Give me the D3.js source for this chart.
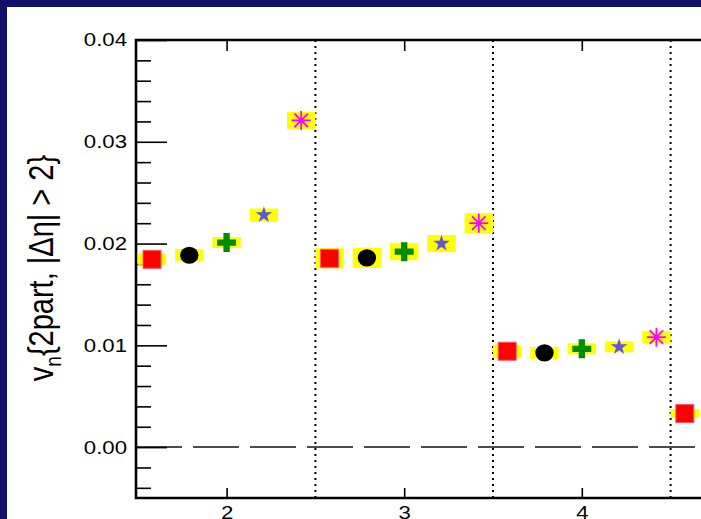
<!DOCTYPE html>
<html>
<head>
<meta charset="utf-8">
<script src="https://cdn.jsdelivr.net/npm/d3@7"></script>
<style>
  html, body { margin: 0; padding: 0; background: #fff; }
  svg { display: block; font-family: "Liberation Sans", Arial, Helvetica, sans-serif; }
</style>
</head>
<body>
<svg id="chart" width="701" height="519"></svg>
<script>
// harmonic groups on the x axis
const harmonics = [2, 3, 4, 5];
// x offset of each series inside a harmonic group
const seriesOffsets = [-0.42, -0.21, 0, 0.21, 0.42];
const seriesNames = ["square", "circle", "cross", "star", "asterisk"];

// v_n values per series (one entry per harmonic)
const vSquare   = [0.01845, 0.01855, 0.00942, 0.0033];
const vCircle   = [0.01885, 0.0186, 0.00926];
const vCross    = [0.0201, 0.0192, 0.00966];
const vStar     = [0.0228, 0.0200, 0.00985];
const vAsterisk = [0.0321, 0.0220, 0.0108];

// systematic uncertainties (half height of yellow boxes)
const sysSquare   = [0.00054, 0.00099, 0.00064, 0.00044];
const sysCircle   = [0.00059, 0.00099, 0.00059];
const sysCross    = [0.00054, 0.00084, 0.00054];
const sysStar     = [0.00064, 0.00084, 0.00054];
const sysAsterisk = [0.00084, 0.00099, 0.00059];

const yMajorTicks = [0.00, 0.01, 0.02, 0.03, 0.04];
const yMinorTicks = [-0.004, -0.002, 0.002, 0.004, 0.006, 0.008, 0.012, 0.014, 0.016, 0.018,
                     0.022, 0.024, 0.026, 0.028, 0.032, 0.034, 0.036, 0.038];
const xTicks = [2, 3, 4, 5];
const xTickLabels = ["2", "3", "4", "5"];
const separators = [2.5, 3.5, 4.5];

const values = [vSquare, vCircle, vCross, vStar, vAsterisk];
const sysErr = [sysSquare, sysCircle, sysCross, sysStar, sysAsterisk];

const points = [];
values.forEach((vals, s) => {
  vals.forEach((v, i) => {
    points.push({ series: seriesNames[s], x: harmonics[i] + seriesOffsets[s], y: v, sys: sysErr[s][i] });
  });
});

const svg = d3.select("#chart");
const W = 701, H = 519;
const textStretch = 1.2;   // glyphs are drawn wide

// navy frame
svg.append("rect").attr("width", W).attr("height", H).attr("fill", "#13106a");
svg.append("rect").attr("x", 7).attr("y", 7).attr("width", W - 7).attr("height", H - 7).attr("fill", "#ffffff");

const x = d3.scaleLinear().domain([1.5, 5.5]).range([137.8, 137.8 + 4 * 177.6]);
const y = d3.scaleLinear().domain([-0.005, 0.04]).range([498, 40]);

const plotLeft = 136, plotTop = 40, plotBottom = 498, plotRight = W + 5;

// separators between harmonics
svg.append("g").selectAll("line").data(separators).join("line")
  .attr("x1", d => x(d)).attr("x2", d => x(d))
  .attr("y1", plotTop).attr("y2", plotBottom)
  .attr("stroke", "#000").attr("stroke-width", 2)
  .attr("stroke-dasharray", "2,4");

// zero line
svg.append("line")
  .attr("x1", plotLeft).attr("x2", plotRight)
  .attr("y1", y(0)).attr("y2", y(0))
  .attr("stroke", "#111").attr("stroke-width", 1.5)
  .attr("stroke-dasharray", "46,11");

// left axis: major and minor ticks pointing inward
const yMajor = svg.append("g").attr("transform", `translate(${plotLeft},0)`)
  .call(d3.axisLeft(y).tickValues(yMajorTicks).tickSize(-31).tickPadding(9)
    .tickFormat(d3.format(".2f")));
const yMinor = svg.append("g").attr("transform", `translate(${plotLeft},0)`)
  .call(d3.axisLeft(y).tickValues(yMinorTicks).tickSize(-15).tickFormat(""));

// bottom axis
const xBottom = svg.append("g").attr("transform", `translate(0,${plotBottom})`)
  .call(d3.axisBottom(x).tickValues(xTicks).tickSize(-10).tickPadding(8)
    .tickFormat((d, i) => xTickLabels[i]));

// top axis
const xTop = svg.append("g").attr("transform", `translate(0,${plotTop})`)
  .call(d3.axisBottom(x).tickValues(xTicks).tickSize(11).tickFormat(""));

[yMajor, yMinor, xBottom, xTop].forEach(g => {
  g.select(".domain").remove();
  g.selectAll(".tick line").attr("stroke", "#000").attr("stroke-width", 1.6);
  g.selectAll(".tick text").attr("fill", "#000").attr("font-size", 18.5)
    .attr("font-family", "'Liberation Sans', Arial, sans-serif");
});
// widen tick label glyphs while keeping their anchor point
yMajor.selectAll(".tick text")
  .attr("x", -9 / textStretch)
  .attr("transform", `scale(${textStretch},1)`);
xBottom.selectAll(".tick text")
  .attr("transform", `scale(${textStretch},1)`);

// frame lines
svg.append("path")
  .attr("d", `M${plotRight},${plotTop}H${plotLeft}V${plotBottom}H${plotRight}`)
  .attr("fill", "none").attr("stroke", "#000").attr("stroke-width", 2.6);

// systematic boxes
const boxHalfW = 0.08;
svg.append("g").selectAll("rect").data(points).join("rect")
  .attr("x", d => x(d.x - boxHalfW))
  .attr("width", d => x(d.x + boxHalfW) - x(d.x - boxHalfW))
  .attr("y", d => y(d.y + d.sys))
  .attr("height", d => y(d.y - d.sys) - y(d.y + d.sys))
  .attr("fill", "#ffff00");

// markers
const markers = svg.append("g");
points.forEach(d => {
  const cx = x(d.x), cy = y(d.y);
  const g = markers.append("g").attr("transform", `translate(${cx},${cy})`);
  if (d.series === "square") {
    g.append("rect").attr("x", -9).attr("y", -9).attr("width", 18).attr("height", 18)
      .attr("fill", "#ff0000").attr("stroke", "#ff5a5a").attr("stroke-width", 1);
  } else if (d.series === "circle") {
    g.append("ellipse").attr("rx", 9.2).attr("ry", 8.6).attr("fill", "#000");
  } else if (d.series === "cross") {
    g.append("path").attr("d", d3.symbol(d3.symbolCross, 200)())
      .attr("fill", "#008c00");
  } else if (d.series === "star") {
    g.append("path").attr("d", d3.symbol(d3.symbolStar, 85)())
      .attr("fill", "#6457d6");
  } else if (d.series === "asterisk") {
    d3.range(8).forEach(k => {
      const a = k * Math.PI / 4;
      g.append("line")
        .attr("x1", 0).attr("y1", 0)
        .attr("x2", 9.5 * Math.cos(a)).attr("y2", 9.5 * Math.sin(a))
        .attr("stroke", "#ff00ff").attr("stroke-width", 1.8);
    });
    g.append("circle").attr("r", 2.5).attr("fill", "#ff00ff");
  }
});

// y axis title
const yTitle = svg.append("text")
  .attr("transform", `translate(53,268) scale(${textStretch},1) rotate(-90)`)
  .attr("text-anchor", "middle")
  .attr("font-size", 29)
  .attr("fill", "#000");
yTitle.append("tspan").text("v");
yTitle.append("tspan").attr("font-size", 19).attr("dy", 7).text("n");
yTitle.append("tspan").attr("dy", -7).text("{2part, |Δη| > 2}");
</script>
</body>
</html>
